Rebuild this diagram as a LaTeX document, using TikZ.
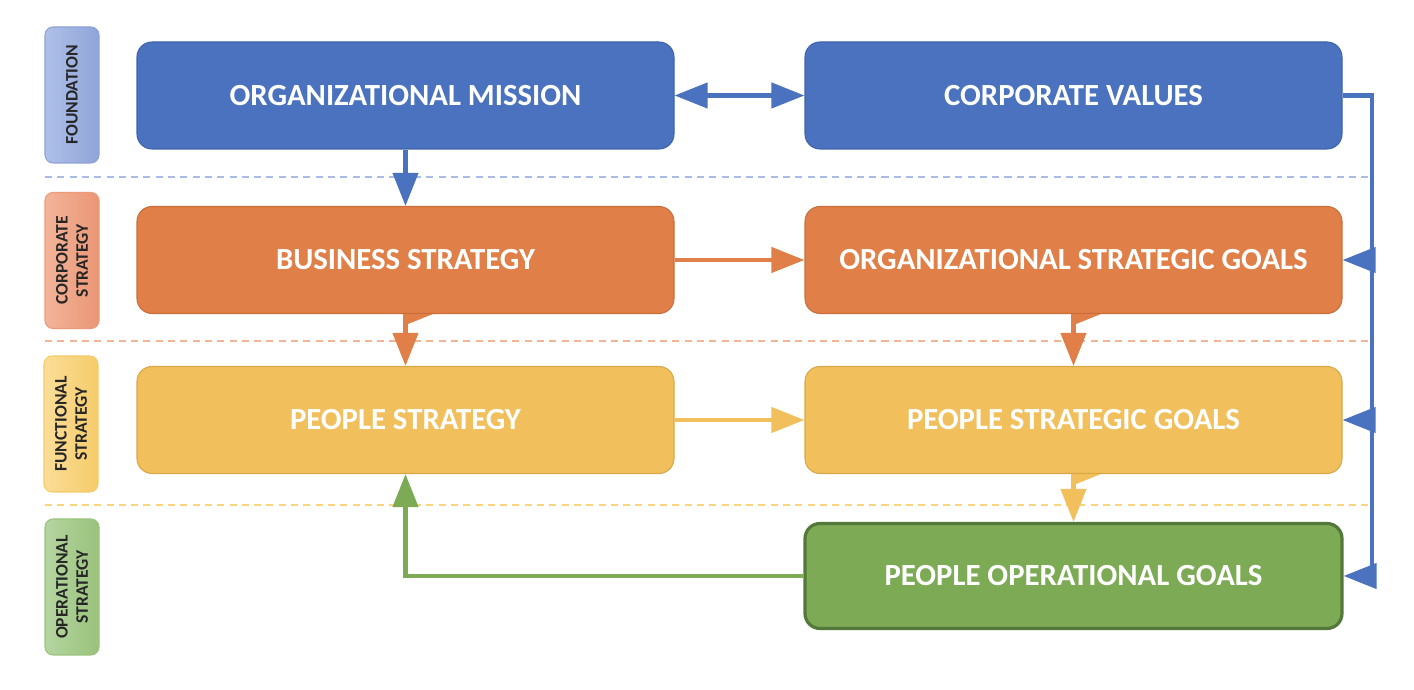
\documentclass[tikz,border=0pt]{standalone}
\usepackage{fontspec}
\setmainfont{Carlito}
\usetikzlibrary{arrows.meta}
\definecolor{mblue}{HTML}{4A72BE}
\definecolor{mblueedge}{HTML}{3F64AC}
\definecolor{morange}{HTML}{E07F47}
\definecolor{morangeedge}{HTML}{C96E39}
\definecolor{myellow}{HTML}{F1BF5B}
\definecolor{myellowedge}{HTML}{D8A848}
\definecolor{mgreen}{HTML}{7DAA55}
\definecolor{mgreenedge}{HTML}{54783A}
\definecolor{lblue}{HTML}{A9BCE4}
\definecolor{lorange}{HTML}{F2B493}
\definecolor{lyellow}{HTML}{F8D57E}
\definecolor{tagtext}{HTML}{262626}

\begin{document}
\begin{tikzpicture}[
    >={Triangle[length=0.66cm,width=0.5cm]},
    box/.style={draw, rounded corners=0.3cm, minimum width=10.74cm,
        minimum height=2.14cm, text=white, line width=0.6pt,
        font=\fontsize{17.5}{20}\selectfont\bfseries},
    tag/.style={draw, rounded corners=0.16cm, minimum width=2.72cm,
        minimum height=1.08cm, rotate=90, align=center, text=tagtext,
        line width=0.6pt, font=\fontsize{10}{11.6}\selectfont\bfseries},
    link/.style={line width=2.4pt},
    level/.style={line width=1.1pt, dash pattern=on 4pt off 3pt}
    ]
            \useasboundingbox (0,0) rectangle (28.28,13.8);

            \draw[level, color=lblue] (0.9,10.26) -- (27.44,10.26);
            \draw[level, color=lorange] (0.9,6.98) -- (27.44,6.98);
            \draw[level, color=lyellow] (0.9,3.70) -- (27.44,3.70);

            \node[tag, draw={rgb,255:red,142;green,162;blue,214},
                left color={rgb,255:red,175;green,192;blue,232},
                right color={rgb,255:red,143;green,164;blue,217}]
                (foundation) at (1.44,11.9) {FOUNDATION};
            \node[tag, draw={rgb,255:red,236;green,154;blue,120},
                left color={rgb,255:red,243;green,180;blue,154},
                right color={rgb,255:red,234;green,150;blue,116}]
                (corporate) at (1.44,8.59) {CORPORATE\\STRATEGY};
            \node[tag, draw={rgb,255:red,244;green,203;blue,104},
                left color={rgb,255:red,250;green,221;blue,152},
                right color={rgb,255:red,246;green,204;blue,106}]
                (functional) at (1.42,5.32) {FUNCTIONAL\\STRATEGY};
            \node[tag, draw={rgb,255:red,155;green,194;blue,126},
                left color={rgb,255:red,181;green,213;blue,160},
                right color={rgb,255:red,153;green,194;blue,124}]
                (operational) at (1.44,2.06) {OPERATIONAL\\STRATEGY};

            \node[box, fill=mblue, draw=mblueedge] (mission) at (8.11,11.89) {ORGANIZATIONAL MISSION};
            \node[box, fill=mblue, draw=mblueedge] (values) at (21.47,11.89) {CORPORATE VALUES};
            \node[box, fill=morange, draw=morangeedge] (business) at (8.11,8.6) {BUSINESS STRATEGY};
            \node[box, fill=morange, draw=morangeedge] (orggoals) at (21.47,8.6) {ORGANIZATIONAL STRATEGIC GOALS};
            \node[box, fill=myellow, draw=myellowedge] (people) at (8.11,5.4) {PEOPLE STRATEGY};
            \node[box, fill=myellow, draw=myellowedge] (peoplegoals) at (21.47,5.4) {PEOPLE STRATEGIC GOALS};
            \node[box, fill=mgreen, draw=mgreenedge, line width=1.8pt, minimum height=2.1cm]
                (opgoals) at (21.47,2.28) {PEOPLE OPERATIONAL GOALS};

            % small tabs under the boxes
            \fill[morange] ([xshift=0.05cm]business.south) -- ++(0,-0.2) -- ++(0.5,0.2) -- cycle;
            \fill[morange] ([xshift=0.05cm]orggoals.south) -- ++(0,-0.2) -- ++(0.5,0.2) -- cycle;
            \fill[myellow] ([xshift=0.05cm]peoplegoals.south) -- ++(0,-0.2) -- ++(0.5,0.2) -- cycle;

            \draw[link, <->, color=mblue] (mission) -- (values);
            \draw[link, ->, color=mblue] (mission) -- (business);
            \draw[link, ->, color=morange] (business) -- (orggoals);
            \draw[link, ->, color=morange] (business) -- (people);
            \draw[link, ->, color=morange] (orggoals) -- (peoplegoals);
            \draw[link, ->, color=myellow] (people) -- (peoplegoals);
            \draw[link, ->, color=myellow] (peoplegoals) -- (opgoals);
            \draw[link, ->, color=mgreen] (opgoals.west) -| (people.south);

            \coordinate (rail) at (27.44,2.16);
            \draw[link, color=mblue] (values.east) -| (rail);
            \foreach \goal in {orggoals,peoplegoals,opgoals}
                \draw[link, ->, color=mblue] (rail |- \goal.east) -- (\goal.east);

            \end{tikzpicture}
\end{document}
